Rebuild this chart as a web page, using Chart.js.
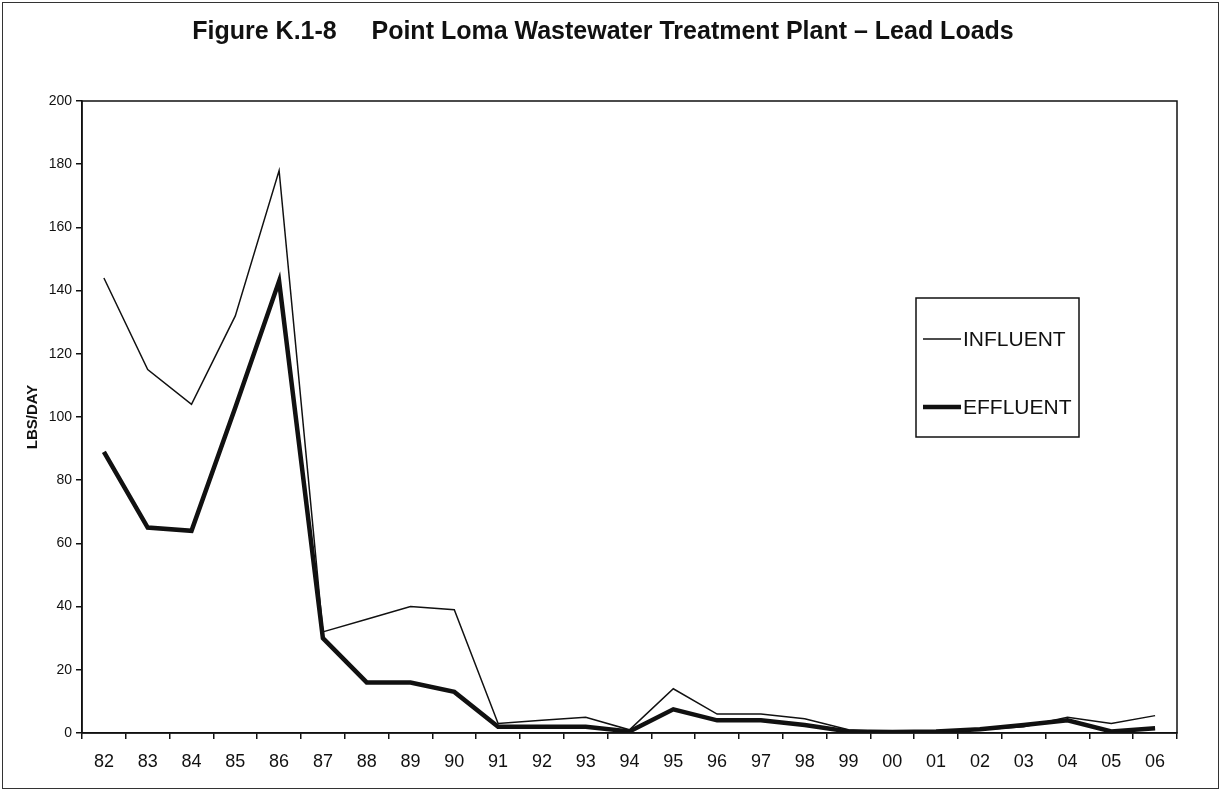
<!DOCTYPE html>
<html>
<head>
<meta charset="utf-8">
<title>Point Loma Wastewater Treatment Plant - Lead Loads</title>
<script src="https://cdn.jsdelivr.net/npm/chart.js@4/dist/chart.umd.min.js"></script>
<style>
  html, body { margin: 0; padding: 0; background: #fff; }
  #wrap { width: 1221px; height: 791px; }
</style>
</head>
<body>
<div id="wrap"><canvas id="leadChart" width="1221" height="791"></canvas></div>
<script>
// ===================== Data =====================
const years = ['82', '83', '84', '85', '86', '87', '88', '89', '90', '91', '92', '93', '94',
               '95', '96', '97', '98', '99', '00', '01', '02', '03', '04', '05', '06'];
const influent = [144, 115, 104, 132, 178, 32, 36, 40, 39, 3, 4, 5, 1,
                  14, 6, 6, 4.5, 1, 0.3, 0.5, 1, 2, 5, 3, 5.5];
const effluent = [89, 65, 64, 103, 143, 30, 16, 16, 13, 2, 2, 2, 0.5,
                  7.5, 4, 4, 2.5, 0.5, 0.3, 0.5, 1.2, 2.5, 4, 0.5, 1.5];
const yTicks = [0, 20, 40, 60, 80, 100, 120, 140, 160, 180, 200];
const titleText = 'Figure K.1-8     Point Loma Wastewater Treatment Plant \u2013 Lead Loads';

const ink = '#111';
const face = '"Liberation Sans", Arial, sans-serif';

// ===================== Plugins =====================
// white page, figure title, frame round the plot and round the whole figure
const framePlugin = {
    id: 'frame',
    beforeDraw(chart) {
        const c = chart.ctx;
        c.save();
        c.fillStyle = '#fff';
        c.fillRect(0, 0, chart.width, chart.height);
        c.restore();
    },
    afterDraw(chart) {
        const c = chart.ctx;
        const a = chart.chartArea;
        c.save();
        c.strokeStyle = ink;
        c.lineWidth = 1.5;
        c.strokeRect(a.left, a.top, a.right - a.left, a.bottom - a.top);
        c.lineWidth = 1;
        c.strokeStyle = '#333';
        c.strokeRect(2.5, 2.5, chart.width - 5, chart.height - 5);
        // title is not centred on the canvas in the original, so place it by hand
        c.fillStyle = ink;
        c.font = 'bold 25px ' + face;
        c.textAlign = 'center';
        c.textBaseline = 'middle';
        c.fillText(titleText, 603, 32);
        c.restore();
    }
};

// boxed legend sitting inside the plot, right side
const boxLegend = {
    id: 'boxLegend',
    afterDraw(chart) {
        const c = chart.ctx;
        const x = 916, y = 298, w = 163, h = 139;
        c.save();
        c.strokeStyle = ink;
        c.lineWidth = 1.5;
        c.fillStyle = '#fff';
        c.fillRect(x, y, w, h);
        c.strokeRect(x, y, w, h);
        c.font = '21px ' + face;
        c.textBaseline = 'middle';
        c.fillStyle = ink;
        chart.data.datasets.forEach((ds, i) => {
            const ly = y + 41 + i * 68;
            c.beginPath();
            c.lineWidth = ds.borderWidth;
            c.moveTo(x + 7, ly);
            c.lineTo(x + 45, ly);
            c.stroke();
            c.fillText(ds.label, x + 47, ly + 1);
        });
        c.restore();
    }
};

// ===================== Chart =====================
const ctx = document.getElementById('leadChart').getContext('2d');
const leadChart = new Chart(ctx, {
    type: 'line',
    data: {
        labels: years,
        datasets: [{
            label: 'INFLUENT',
            data: influent,
            borderColor: ink,
            borderWidth: 1.5,
            pointRadius: 0,
            tension: 0
        }, {
            label: 'EFFLUENT',
            data: effluent,
            borderColor: ink,
            borderWidth: 4.5,
            pointRadius: 0,
            tension: 0
        }]
    },
    options: {
        responsive: false,
        animation: false,
        devicePixelRatio: 1,
        layout: { padding: { left: 0, right: 44, top: 101, bottom: 0 } },
        plugins: {
            legend: { display: false },
            tooltip: { enabled: false },
            title: { display: false }
        },
        scales: {
            x: {
                offset: true,
                grid: { offset: true, drawOnChartArea: false, tickLength: 6, color: ink, lineWidth: 1.5 },
                border: { color: ink, width: 1.5 },
                ticks: {
                    color: ink,
                    padding: 12,
                    maxRotation: 0,
                    autoSkip: false,
                    font: { family: face, size: 18 }
                },
                afterFit(scale) { scale.height = 58; }
            },
            y: {
                min: 0,
                max: 200,
                afterBuildTicks(scale) { scale.ticks = yTicks.map(v => ({ value: v })); },
                grid: { drawOnChartArea: false, tickLength: 6, color: ink, lineWidth: 1.5 },
                border: { color: ink, width: 1.5 },
                ticks: {
                    color: ink,
                    padding: 4,
                    font: { family: face, size: 14 }
                },
                title: {
                    display: true,
                    text: 'LBS/DAY',
                    color: ink,
                    padding: { top: 24, bottom: 0 },
                    font: { family: face, size: 15, weight: 'bold' }
                },
                afterFit(scale) { scale.width = 82; }
            }
        }
    },
    plugins: [framePlugin, boxLegend]
});
</script>
</body>
</html>
